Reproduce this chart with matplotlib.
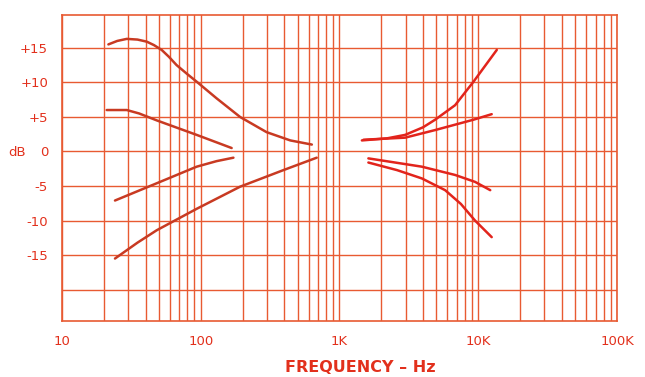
import matplotlib
import matplotlib.pyplot as plt
import numpy as np

matplotlib.use('agg')

# bass boost / cut curves (Hz, dB)
bass_hi_f = [21.6, 25, 29.3, 35, 40.8, 46, 52.3, 59, 67, 80, 93.5, 130, 192, 298, 442, 632]
bass_hi_db = [15.5, 16.0, 16.3, 16.2, 15.9, 15.4, 14.7, 13.7, 12.5, 11.2, 10.1, 7.7, 5.0, 2.8, 1.6, 1.0]
bass_lo_f = [21, 29.3, 36, 48.2, 93.5, 167]
bass_lo_db = [6.0, 6.0, 5.5, 4.5, 2.4, 0.5]
bass_cut_lo_f = [24.1, 48.2, 93.5, 130, 172]
bass_cut_lo_db = [-7.1, -4.6, -2.2, -1.4, -0.9]
bass_cut_hi_f = [24.1, 35, 48.2, 93.5, 192, 394, 685]
bass_cut_hi_db = [-15.5, -13.2, -11.4, -8.3, -5.1, -2.7, -0.9]

# treble boost / cut curves
treb_hi_f = [1450, 2200, 2970, 4000, 4890, 6810, 9240, 13600]
treb_hi_db = [1.6, 1.9, 2.4, 3.5, 4.6, 6.7, 10.1, 14.7]
treb_lo_f = [1490, 2970, 4890, 9240, 12500]
treb_lo_db = [1.7, 2.0, 3.1, 4.6, 5.4]
treb_cut_lo_f = [1615, 3920, 6810, 9480, 12200]
treb_cut_lo_db = [-1.0, -2.2, -3.4, -4.4, -5.6]
treb_cut_hi_f = [1615, 2600, 3920, 5770, 7500, 9480, 12500]
treb_cut_hi_db = [-1.6, -2.7, -3.9, -5.6, -7.6, -10.0, -12.4]

x_ticks = [10, 100, 1000, 10000, 100000]
x_labels = ["10", "100", "1K", "10K", "100K"]
y_ticks = [-20, -15, -10, -5, 0, 5, 10, 15]
y_labels = ["", "-15", "-10", "-5", "0", "+5", "+10", "+15"]

grid_c = '#E85A32'
text_c = '#E2301C'
bass_c = '#C83A22'
treb_c = '#E2241C'

fig = plt.figure(figsize=(6.45, 3.77), dpi=100)
ax = fig.add_axes([0.0961, 0.1493, 0.8605, 0.8117])
ax.set_xscale('log')
ax.set_xlim(10, 100000)
ax.set_ylim(-24.5, 19.8)

for f, db in [(bass_hi_f, bass_hi_db), (bass_lo_f, bass_lo_db),
              (bass_cut_lo_f, bass_cut_lo_db), (bass_cut_hi_f, bass_cut_hi_db)]:
    ax.plot(f, db, color=bass_c, lw=1.8, zorder=3, solid_capstyle='round')
for f, db in [(treb_hi_f, treb_hi_db), (treb_lo_f, treb_lo_db),
              (treb_cut_lo_f, treb_cut_lo_db), (treb_cut_hi_f, treb_cut_hi_db)]:
    ax.plot(f, db, color=treb_c, lw=1.8, zorder=3, solid_capstyle='round')

ax.set_xticks(x_ticks)
ax.set_xticklabels(x_labels)
ax.xaxis.set_minor_locator(matplotlib.ticker.LogLocator(base=10, subs=np.arange(2, 10)))
ax.xaxis.set_minor_formatter(matplotlib.ticker.NullFormatter())
ax.set_yticks(y_ticks)
ax.set_yticklabels(y_labels)

ax.tick_params(which='both', length=0, colors=text_c, labelsize=9.5)
ax.tick_params(axis='x', pad=10)
ax.tick_params(axis='y', pad=10)
ax.grid(True, which='both', color=grid_c, lw=1.0)
for s in ax.spines.values():
    s.set_color(grid_c)
    s.set_linewidth(1.2)

fig.text(8 / 645, 1 - 152 / 377, "dB", color=text_c, fontsize=9.5, ha='left', va='center')
fig.text(360 / 645, 1 - 367 / 377, "FREQUENCY – Hz", color=text_c, fontsize=11.5,
         fontweight='bold', ha='center', va='center')

plt.savefig("out.png", dpi=100)
